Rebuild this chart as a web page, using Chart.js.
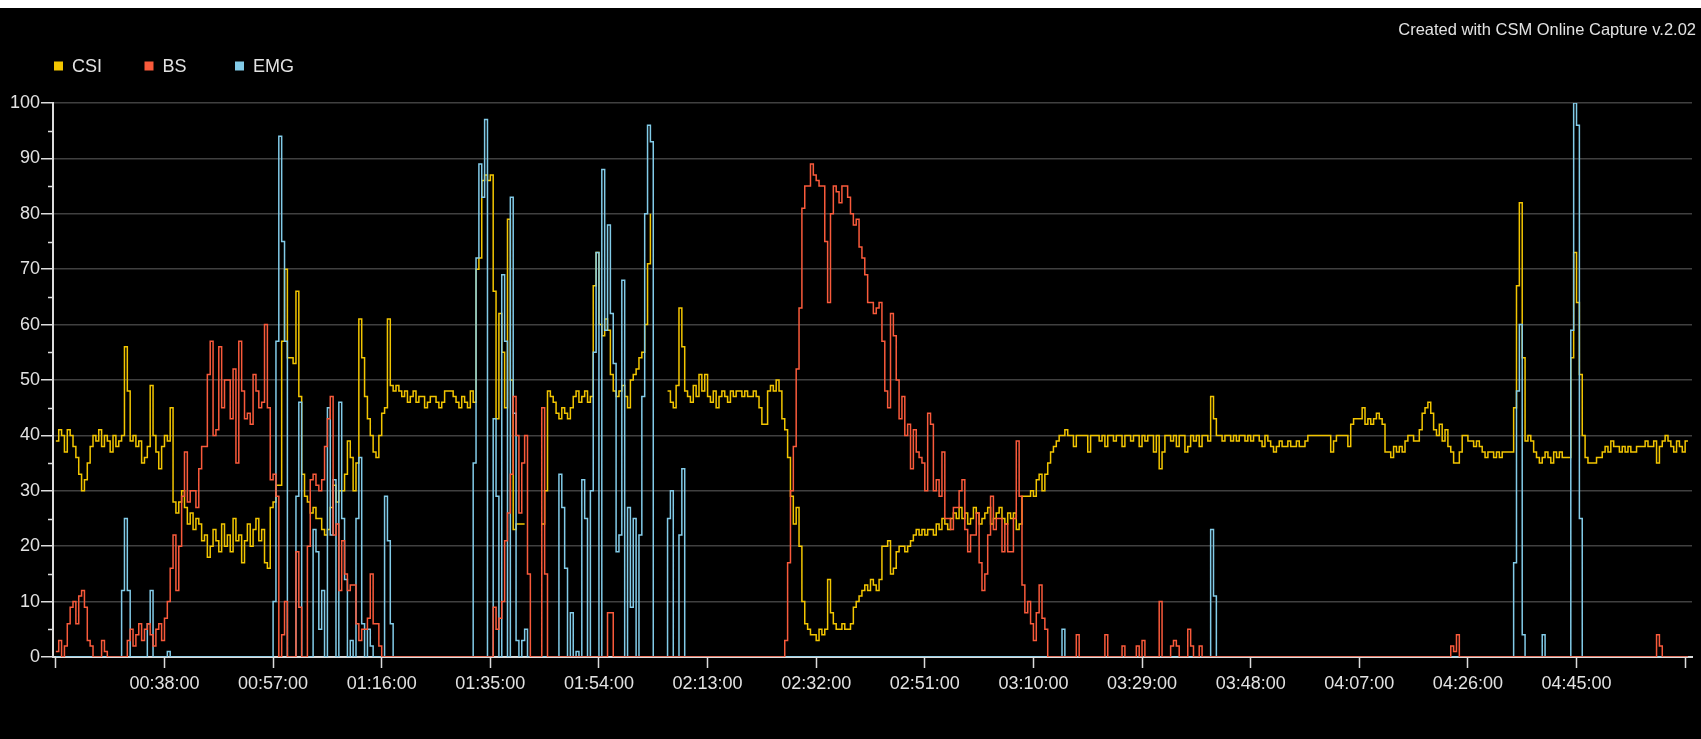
<!DOCTYPE html>
<html>
<head>
<meta charset="utf-8">
<title>CSI / BS / EMG trend</title>
<script src="https://cdn.jsdelivr.net/npm/chart.js@4.4.1/dist/chart.umd.min.js"></script>
<style>
  html, body { margin: 0; padding: 0; background: #fff; }
  #wrap { position: absolute; left: 0; top: 8px; width: 1701px; height: 731px; background: #000; }
  canvas { display: block; }
</style>
</head>
<body>
<div id="wrap"><canvas id="trendChart" width="1701" height="731"></canvas></div>
<script>
// sample clock of the monitor: one value every 30 s, starting at 00:19:00 (minutes)
const SAMPLE_START = 19;
const SAMPLE_STEP = 0.5;

// CSI index, 10 minutes per row
const csiValues = [
  39,41,40,37,41,40,38,36,33,30,32,35,38,40,39,41,38,40,39,37, // 00:19
  40,38,39,40,56,48,39,40,38,39,35,36,38,49,40,37,34,38,40,39, // 00:29
  45,28,26,28,30,27,24,26,23,25,24,21,22,18,20,23,21,19,24,20, // 00:39
  22,19,25,21,22,17,21,24,20,23,25,21,23,17,16,27,28,31,31,57, // 00:49
  70,54,54,53,66,47,33,29,28,26,27,25,25,23,22,23,27,31,28,30, // 00:59
  30,33,39,36,30,35,61,54,47,43,40,37,36,40,44,45,61,49,48,49, // 01:09
  48,47,48,46,47,48,46,47,47,45,46,47,47,46,45,46,48,48,48,47, // 01:19
  46,45,47,46,45,48,46,70,72,86,87,86,87,66,43,62,55,45,79,50, // 01:29
  23,24,24,24,24,null,null,null,null,null,24,30,48,47,46,44,43,45,44,43, // 01:39
  45,47,48,46,47,48,46,47,67,73,60,58,61,59,51,48,47,48,49,47, // 01:49
  45,50,51,52,54,55,60,71,80,null,null,null,null,null,48,46,45,49,63,56, // 01:59
  48,47,46,49,47,51,48,51,47,46,48,45,47,48,47,46,48,47,48,48, // 02:09
  47,48,47,47,48,47,45,42,42,48,49,48,50,48,43,41,36,29,24,27, // 02:19
  20,10,6,5,4,4,3,5,4,5,14,8,6,5,5,6,5,5,6,9,                  // 02:29
  10,11,12,13,12,14,13,12,14,20,20,21,15,16,19,20,20,19,20,21, // 02:39
  22,23,22,23,22,23,23,22,24,23,25,24,23,25,26,25,27,25,26,24, // 02:49
  25,27,26,24,25,26,27,24,25,26,27,25,24,26,25,26,23,24,29,29, // 02:59
  29,30,29,32,33,30,33,35,37,38,39,40,40,41,40,40,38,40,40,40, // 03:09
  40,37,40,40,40,39,40,38,40,40,39,40,40,38,40,40,39,40,40,38, // 03:19
  40,39,40,40,37,40,34,37,40,40,39,40,38,40,40,37,38,40,39,40, // 03:29
  38,40,40,39,47,43,40,40,39,40,40,39,40,39,40,40,39,40,39,40, // 03:39
  40,39,38,40,39,38,37,38,39,38,38,39,38,38,39,38,38,39,40,40, // 03:49
  40,40,40,40,40,40,37,39,40,40,40,40,38,42,43,43,43,45,42,43, // 03:59
  42,43,44,43,42,37,37,36,38,37,38,37,39,40,40,39,39,41,44,45, // 04:09
  46,44,41,40,42,39,41,38,37,35,35,37,40,40,39,39,38,39,38,37, // 04:19
  36,37,37,36,37,36,37,37,37,37,45,67,82,54,39,40,39,37,36,35, // 04:29
  36,37,36,35,37,36,37,36,36,36,54,73,64,51,40,36,35,35,35,36, // 04:39
  36,37,38,37,39,38,38,37,38,37,38,37,37,38,38,38,39,38,38,39, // 04:49
  35,38,39,40,39,38,37,39,38,37,39,39                          // 04:59
];

// burst suppression
const bsValues = [
  1,3,0,2,6,9,10,6,11,12,9,3,2,0,0,0,3,1,0,0,
  0,0,0,0,0,3,5,2,4,6,3,5,6,4,2,5,6,3,7,10,
  16,22,12,20,29,37,28,30,30,27,34,38,38,51,57,40,41,56,45,50,
  50,43,52,35,57,48,43,44,42,51,48,45,46,60,45,32,33,29,0,4,
  10,0,0,0,19,9,0,0,20,32,33,31,30,32,38,43,47,22,24,12,
  21,15,12,13,13,6,3,5,5,7,15,6,6,2,0,0,0,0,0,0,
  0,0,0,0,0,0,0,0,0,0,0,0,0,0,0,0,0,0,0,0,
  0,0,0,0,0,0,0,0,0,0,0,0,0,9,5,7,10,21,26,33,
  47,40,26,35,40,15,0,0,0,0,45,15,0,0,0,0,0,0,0,0,
  0,0,0,0,0,0,0,0,0,0,0,0,0,8,8,0,0,0,0,0,
  0,0,0,0,0,0,0,0,0,0,0,0,0,0,0,0,0,0,0,0,
  0,0,0,0,0,0,0,0,0,0,0,0,0,0,0,0,0,0,0,0,
  0,0,0,0,0,0,0,0,0,0,0,0,0,0,0,3,17,30,38,52,
  63,81,85,85,89,87,86,85,85,75,64,80,85,84,82,85,85,83,80,78,
  79,74,72,69,64,64,62,63,64,57,48,45,62,58,50,43,47,40,42,34,
  41,37,36,35,30,44,42,30,32,29,37,25,25,23,27,27,30,32,23,19,
  22,22,26,17,12,15,22,29,23,25,25,19,24,19,19,25,39,29,13,8,
  10,6,3,8,13,7,5,0,0,0,0,0,0,0,0,0,0,4,0,0,
  0,0,0,0,0,0,0,4,0,0,0,0,0,2,0,0,0,0,2,0,
  3,0,0,0,0,0,10,0,0,0,2,3,2,0,0,0,5,2,0,0,
  2,0,0,0,0,0,0,0,0,0,0,0,0,0,0,0,0,0,0,0,
  0,0,0,0,0,0,0,0,0,0,0,0,0,0,0,0,0,0,0,0,
  0,0,0,0,0,0,0,0,0,0,0,0,0,0,0,0,0,0,0,0,
  0,0,0,0,0,0,0,0,0,0,0,0,0,0,0,0,0,0,0,0,
  0,0,0,0,0,0,0,0,2,1,4,0,0,0,0,0,0,0,0,0,
  0,0,0,0,0,0,0,0,0,0,0,0,0,0,0,0,0,0,0,0,
  0,0,0,0,0,0,0,0,0,0,0,0,0,0,0,0,0,0,0,0,
  0,0,0,0,0,0,0,0,0,0,0,0,0,0,0,0,0,0,0,0,
  4,2,0,0,0,0,0,0,0,0,0,0
];

// EMG activity
const emgValues = [
  0,0,0,0,0,0,0,0,0,0,0,0,0,0,0,0,0,0,0,0,
  0,0,0,12,25,12,0,0,0,0,0,0,6,12,0,0,0,0,0,1,
  0,0,0,0,0,0,0,0,0,0,0,0,0,0,0,0,0,0,0,0,
  0,0,0,0,0,0,0,0,0,0,0,0,0,0,0,0,10,57,94,75,
  57,0,0,0,29,46,0,0,0,0,23,19,5,12,0,45,22,32,0,46,
  25,14,0,3,0,25,36,6,0,5,2,0,0,0,0,29,21,6,0,0,
  0,0,0,0,0,0,0,0,0,0,0,0,0,0,0,0,0,0,0,0,
  0,0,0,0,0,0,35,72,89,83,97,0,0,43,29,0,69,57,0,83,
  44,3,0,3,5,0,0,0,0,0,0,0,0,0,0,0,33,27,16,0,
  8,0,1,0,32,25,0,30,55,73,0,88,59,78,62,53,19,22,68,0,
  27,9,25,0,22,47,80,96,93,0,0,0,0,0,25,30,0,0,22,34,
  0,0,0,0,0,0,0,0,0,0,0,0,0,0,0,0,0,0,0,0,
  0,0,0,0,0,0,0,0,0,0,0,0,0,0,0,0,0,0,0,0,
  0,0,0,0,0,0,0,0,0,0,0,0,0,0,0,0,0,0,0,0,
  0,0,0,0,0,0,0,0,0,0,0,0,0,0,0,0,0,0,0,0,
  0,0,0,0,0,0,0,0,0,0,0,0,0,0,0,0,0,0,0,0,
  0,0,0,0,0,0,0,0,0,0,0,0,0,0,0,0,0,0,0,0,
  0,0,0,0,0,0,0,0,0,0,0,0,5,0,0,0,0,0,0,0,
  0,0,0,0,0,0,0,0,0,0,0,0,0,0,0,0,0,0,0,0,
  0,0,0,0,0,0,0,0,0,0,0,0,0,0,0,0,0,0,0,0,
  0,0,0,0,23,11,0,0,0,0,0,0,0,0,0,0,0,0,0,0,
  0,0,0,0,0,0,0,0,0,0,0,0,0,0,0,0,0,0,0,0,
  0,0,0,0,0,0,0,0,0,0,0,0,0,0,0,0,0,0,0,0,
  0,0,0,0,0,0,0,0,0,0,0,0,0,0,0,0,0,0,0,0,
  0,0,0,0,0,0,0,0,0,0,0,0,0,0,0,0,0,0,0,0,
  0,0,0,0,0,0,0,0,0,0,17,48,60,4,0,0,0,0,0,0,
  4,0,0,0,0,0,0,0,0,0,59,100,96,25,0,0,0,0,0,0,
  0,0,0,0,0,0,0,0,0,0,0,0,0,0,0,0,0,0,0,0,
  0,0,0,0,0,0,0,0,0,0,0,0
];

// x axis ticks every 19 minutes, the outer two carry no label
const tickMinutes = [19, 38, 57, 76, 95, 114, 133, 152, 171, 190, 209, 228, 247, 266, 285, 304];
const tickLabels = ['', '00:38:00', '00:57:00', '01:16:00', '01:35:00', '01:54:00', '02:13:00', '02:32:00',
  '02:51:00', '03:10:00', '03:29:00', '03:48:00', '04:07:00', '04:26:00', '04:45:00', ''];

const minutes = csiValues.map((_, i) => SAMPLE_START + i * SAMPLE_STEP);

const FONT = '"Liberation Sans", Arial, sans-serif';
const TEXT_COLOR = '#e2e2e2';

// legend row, credit line and the short 5-unit ticks on the y axis
const headerPlugin = {
  id: 'header',
  afterDraw(chart) {
    const ctx = chart.ctx;
    ctx.save();
    ctx.textBaseline = 'middle';
    ctx.fillStyle = TEXT_COLOR;
    ctx.font = '16.5px ' + FONT;
    ctx.textAlign = 'right';
    ctx.fillText('Created with CSM Online Capture v.2.02', 1696, 22);

    ctx.textAlign = 'left';
    ctx.font = '18px ' + FONT;
    let x = 54;
    chart.data.datasets.forEach(ds => {
      ctx.fillStyle = ds.borderColor;
      ctx.fillRect(x, 53.5, 9, 9);
      ctx.fillStyle = TEXT_COLOR;
      ctx.fillText(ds.label, x + 18, 59);
      x += 90.5;
    });

    const y = chart.scales.y;
    const left = chart.chartArea.left;
    ctx.strokeStyle = '#dcdcdc';
    ctx.lineWidth = 1.5;
    for (let v = 5; v < 100; v += 10) {
      const py = Math.round(y.getPixelForValue(v)) + 0.5;
      ctx.beginPath();
      ctx.moveTo(left - 5, py);
      ctx.lineTo(left, py);
      ctx.stroke();
    }
    ctx.restore();
  }
};

const ctx = document.getElementById('trendChart').getContext('2d');

new Chart(ctx, {
  type: 'line',
  data: {
    labels: minutes,
    datasets: [
      { label: 'CSI', data: csiValues, borderColor: '#f2c500', order: 3 },
      { label: 'BS', data: bsValues, borderColor: '#f95a3b', order: 1 },
      { label: 'EMG', data: emgValues, borderColor: '#82cbe8', order: 2 }
    ]
  },
  options: {
    responsive: false,
    animation: false,
    events: [],
    layout: { padding: { top: 95, right: 9, bottom: 0, left: 0 } },
    elements: {
      point: { radius: 0 },
      line: { borderWidth: 1.5, stepped: 'before', fill: false }
    },
    plugins: {
      legend: { display: false },
      tooltip: { enabled: false }
    },
    scales: {
      x: {
        type: 'linear',
        min: 18.5,
        max: 305.2,
        afterBuildTicks: scale => { scale.ticks = tickMinutes.map(v => ({ value: v })); },
        afterFit: scale => { scale.height = 82; },
        grid: { drawOnChartArea: false, tickLength: 11, tickColor: '#dcdcdc', tickWidth: 1.5 },
        border: { color: '#dcdcdc', width: 2 },
        ticks: {
          autoSkip: false,
          maxRotation: 0,
          padding: 5,
          color: TEXT_COLOR,
          font: { family: FONT, size: 18 },
          callback: value => tickLabels[tickMinutes.indexOf(value)]
        }
      },
      y: {
        min: 0,
        max: 100,
        afterFit: scale => { scale.width = 53; },
        grid: { color: '#404040', lineWidth: 1.5, tickLength: 12, tickColor: '#dcdcdc', tickWidth: 1.5 },
        border: { color: '#dcdcdc', width: 2 },
        ticks: {
          stepSize: 10,
          padding: 1,
          color: TEXT_COLOR,
          font: { family: FONT, size: 18 }
        }
      }
    }
  },
  plugins: [headerPlugin]
});
</script>
</body>
</html>
